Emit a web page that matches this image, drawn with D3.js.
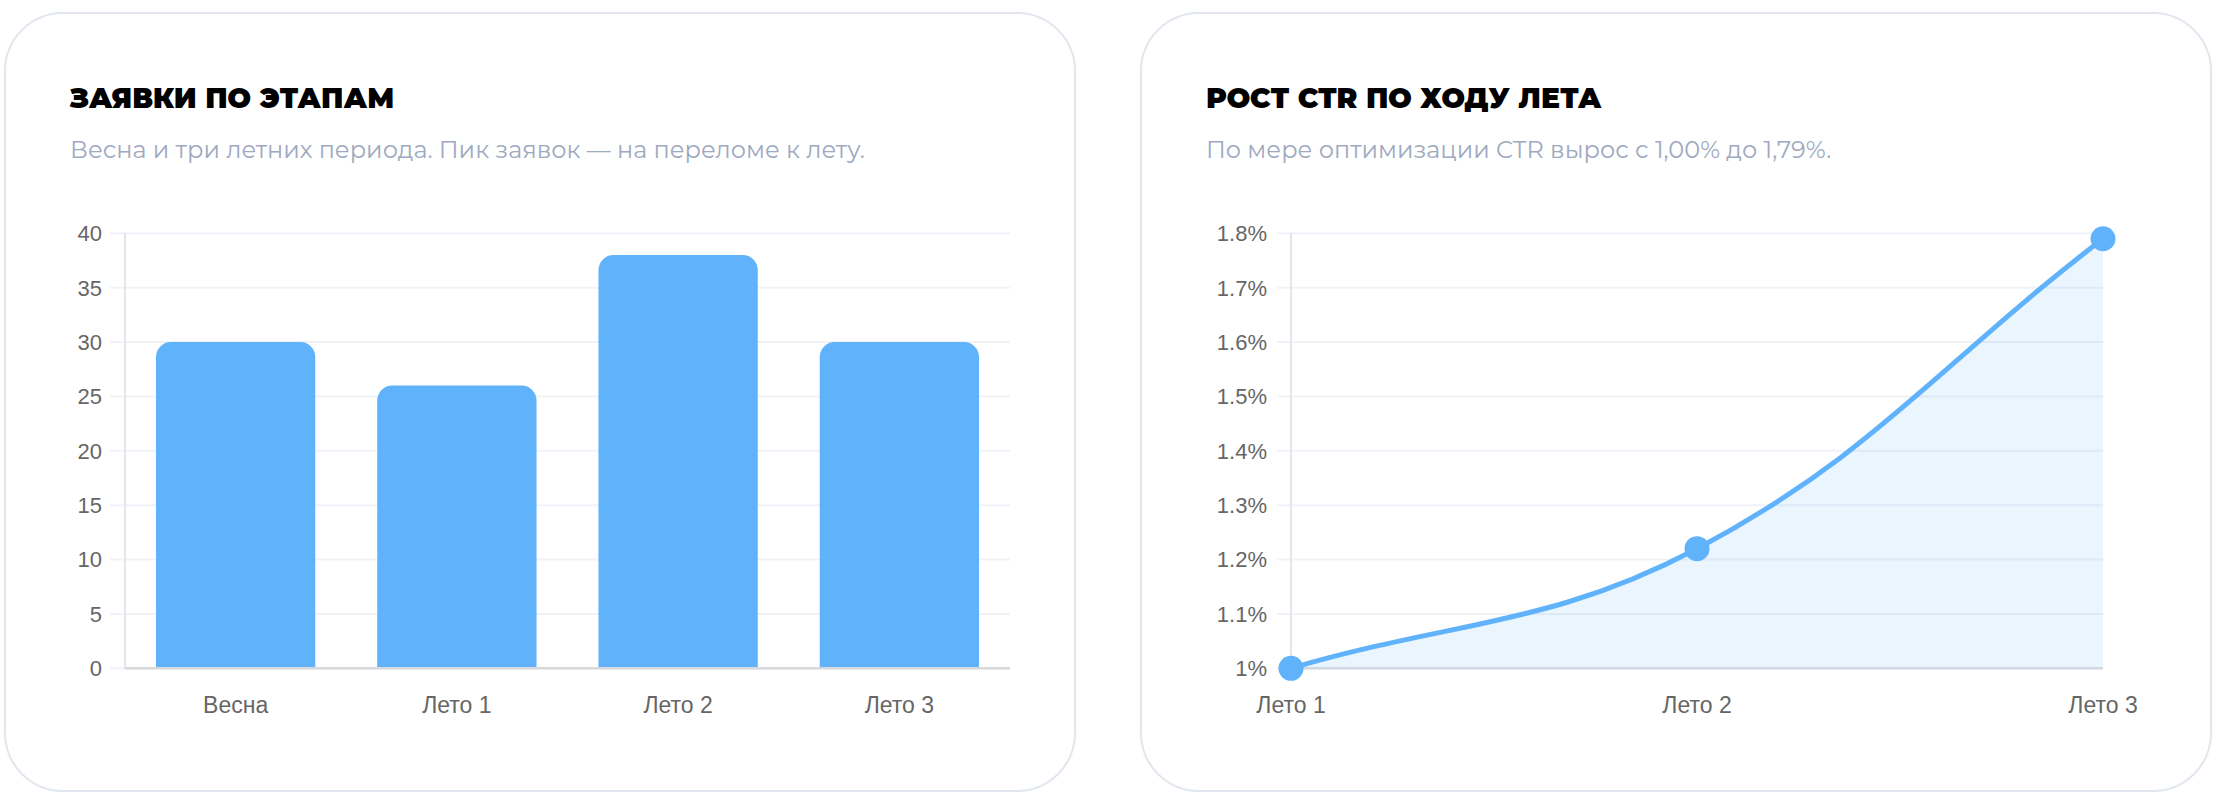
<!DOCTYPE html>
<html><head><meta charset="utf-8">
<script src="https://cdn.jsdelivr.net/npm/d3@7"></script>
<style>
html,body{margin:0;padding:0;background:#fff;}
svg{display:block;}
</style></head>
<body>
<svg id="chart" width="2216" height="804"></svg>
<script>
// ---- data ----
const barTitle = "ЗАЯВКИ ПО ЭТАПАМ";
const barSubtitle = "Весна и три летних периода. Пик заявок — на переломе к лету.";
const barCategories = ["Весна", "Лето 1", "Лето 2", "Лето 3"];
const barValues = [30, 26, 38, 30];
const barTicks = [0, 5, 10, 15, 20, 25, 30, 35, 40];

const lineTitle = "РОСТ CTR ПО ХОДУ ЛЕТА";
const lineSubtitle = "По мере оптимизации CTR вырос с 1,00% до 1,79%.";
const lineCategories = ["Лето 1", "Лето 2", "Лето 3"];
const ctrValues = [1.00, 1.22, 1.79];
const ctrTicks = [1.0, 1.1, 1.2, 1.3, 1.4, 1.5, 1.6, 1.7, 1.8];
const ctrTickLabels = ["1%", "1.1%", "1.2%", "1.3%", "1.4%", "1.5%", "1.6%", "1.7%", "1.8%"];

// ---- styles ----
const BLUE = "#60b3fb";
const GRID = "#eff3f8";
const TICKTXT = "#666666";
const TITLE_FONT = "Montserrat, Inter, 'Open Sans', sans-serif";
const SUB_FONT = "Montserrat, Inter, 'Open Sans', sans-serif";
const AXIS_FONT = "'Liberation Sans', Arial, Helvetica, sans-serif";

const svg = d3.select("#chart");

function card(x) {
  const g = svg.append("g").attr("transform", `translate(${x},0)`);
  g.append("rect").attr("x", 0).attr("y", 13).attr("width", 1070).attr("height", 778)
    .attr("rx", 58).attr("ry", 58).attr("fill", "#fff")
    .attr("stroke", "#e2e7ef").attr("stroke-width", 2);
  return g;
}

function header(g, title, sub) {
  g.append("text").attr("x", 65).attr("y", 108).text(title)
    .attr("font-family", TITLE_FONT).attr("font-weight", 900).attr("font-size", 28)
    .attr("fill", "#000");
  g.append("text").attr("x", 65).attr("y", 158).text(sub)
    .attr("font-family", SUB_FONT).attr("font-weight", 400).attr("font-size", 24)
    .attr("fill", "#9ea9bf");
}

// ===== Bar chart =====
const g1 = card(5);
header(g1, barTitle, barSubtitle);
const x1 = d3.scaleBand().domain(barCategories).range([120, 1005]).paddingInner(0.28).paddingOuter(0.14);
const y1 = d3.scaleLinear().domain([0, 40]).range([668.3, 233.3]);

// grid
g1.append("g").selectAll("line").data(barTicks).join("line")
  .attr("x1", 105).attr("x2", 1005)
  .attr("y1", d => y1(d)).attr("y2", d => y1(d))
  .attr("stroke", GRID).attr("stroke-width", 2);
// y axis line
g1.append("line").attr("x1", 120).attr("x2", 120).attr("y1", y1(40)).attr("y2", y1(0))
  .attr("stroke", "#e4e6ea").attr("stroke-width", 2);
// tick labels
g1.append("g").selectAll("text").data(barTicks).join("text")
  .attr("x", 97).attr("y", d => y1(d)).attr("dy", "0.36em")
  .attr("text-anchor", "end").attr("font-family", AXIS_FONT).attr("font-size", 22)
  .attr("fill", TICKTXT).text(d => d);

// bars (top corners rounded)
const r = 15;
g1.append("g").selectAll("path").data(barValues).join("path")
  .attr("fill", BLUE)
  .attr("d", (d, i) => {
    const x = x1(barCategories[i]), w = x1.bandwidth(), y = y1(d), b = y1(0);
    const p = d3.path();
    p.moveTo(x, b);
    p.lineTo(x, y + r);
    p.arcTo(x, y, x + r, y, r);
    p.lineTo(x + w - r, y);
    p.arcTo(x + w, y, x + w, y + r, r);
    p.lineTo(x + w, b);
    p.closePath();
    return p.toString();
  });
// baseline
g1.append("line").attr("x1", 120).attr("x2", 1005).attr("y1", y1(0)).attr("y2", y1(0))
  .attr("stroke", "#d6d8dc").attr("stroke-width", 2.5);
// x labels
g1.append("g").selectAll("text").data(barCategories).join("text")
  .attr("x", d => x1(d) + x1.bandwidth() / 2).attr("y", 713)
  .attr("text-anchor", "middle").attr("font-family", AXIS_FONT).attr("font-size", 23)
  .attr("fill", TICKTXT).text(d => d);

// ===== Line chart =====
const g2 = card(1141);
header(g2, lineTitle, lineSubtitle);
const x2 = d3.scalePoint().domain(lineCategories).range([150, 962]);
const y2 = d3.scaleLinear().domain([1.0, 1.8]).range([668.3, 233.3]);

g2.append("g").selectAll("line").data(ctrTicks).join("line")
  .attr("x1", 136).attr("x2", 962)
  .attr("y1", d => y2(d)).attr("y2", d => y2(d))
  .attr("stroke", GRID).attr("stroke-width", 2);
g2.append("line").attr("x1", 150).attr("x2", 150).attr("y1", y2(1.8)).attr("y2", y2(1.0))
  .attr("stroke", "#e4e6ea").attr("stroke-width", 2);
g2.append("g").selectAll("text").data(ctrTicks).join("text")
  .attr("x", 126).attr("y", d => y2(d)).attr("dy", "0.36em")
  .attr("text-anchor", "end").attr("font-family", AXIS_FONT).attr("font-size", 22)
  .attr("fill", TICKTXT).text((d, i) => ctrTickLabels[i]);

// spline (Chart.js-like tension 0.4)
const pts = ctrValues.map((v, i) => [x2(lineCategories[i]), y2(v)]);
function controlPoints(points, t) {
  return points.map((p, i) => {
    const prev = points[i - 1] || p, next = points[i + 1] || p;
    const d01 = Math.hypot(p[0] - prev[0], p[1] - prev[1]);
    const d12 = Math.hypot(next[0] - p[0], next[1] - p[1]);
    const s = d01 + d12 || 1;
    const fa = t * d01 / s, fb = t * d12 / s;
    return {
      prev: [p[0] - fa * (next[0] - prev[0]), p[1] - fa * (next[1] - prev[1])],
      next: [p[0] + fb * (next[0] - prev[0]), p[1] + fb * (next[1] - prev[1])]
    };
  });
}
const cps = controlPoints(pts, 0.4);
function splinePath(p) {
  p.moveTo(pts[0][0], pts[0][1]);
  for (let i = 1; i < pts.length; i++) {
    const c1 = cps[i - 1].next, c2 = cps[i].prev;
    p.bezierCurveTo(c1[0], c1[1], c2[0], c2[1], pts[i][0], pts[i][1]);
  }
}
const area = d3.path();
splinePath(area);
area.lineTo(pts[pts.length - 1][0], y2(1.0));
area.lineTo(pts[0][0], y2(1.0));
area.closePath();
g2.append("path").attr("d", area.toString()).attr("fill", BLUE).attr("fill-opacity", 0.13);

g2.append("line").attr("x1", 150).attr("x2", 962).attr("y1", y2(1.0)).attr("y2", y2(1.0))
  .attr("stroke", "#cfd8e3").attr("stroke-width", 2.5);

const line = d3.path();
splinePath(line);
g2.append("path").attr("d", line.toString()).attr("fill", "none")
  .attr("stroke", BLUE).attr("stroke-width", 5).attr("stroke-linecap", "round");

g2.append("g").selectAll("circle").data(ctrValues).join("circle")
  .attr("cx", (d, i) => x2(lineCategories[i])).attr("cy", d => y2(d))
  .attr("r", 12.5).attr("fill", BLUE);

g2.append("g").selectAll("text").data(lineCategories).join("text")
  .attr("x", d => x2(d)).attr("y", 713)
  .attr("text-anchor", "middle").attr("font-family", AXIS_FONT).attr("font-size", 23)
  .attr("fill", TICKTXT).text(d => d);
</script>
</body></html>
